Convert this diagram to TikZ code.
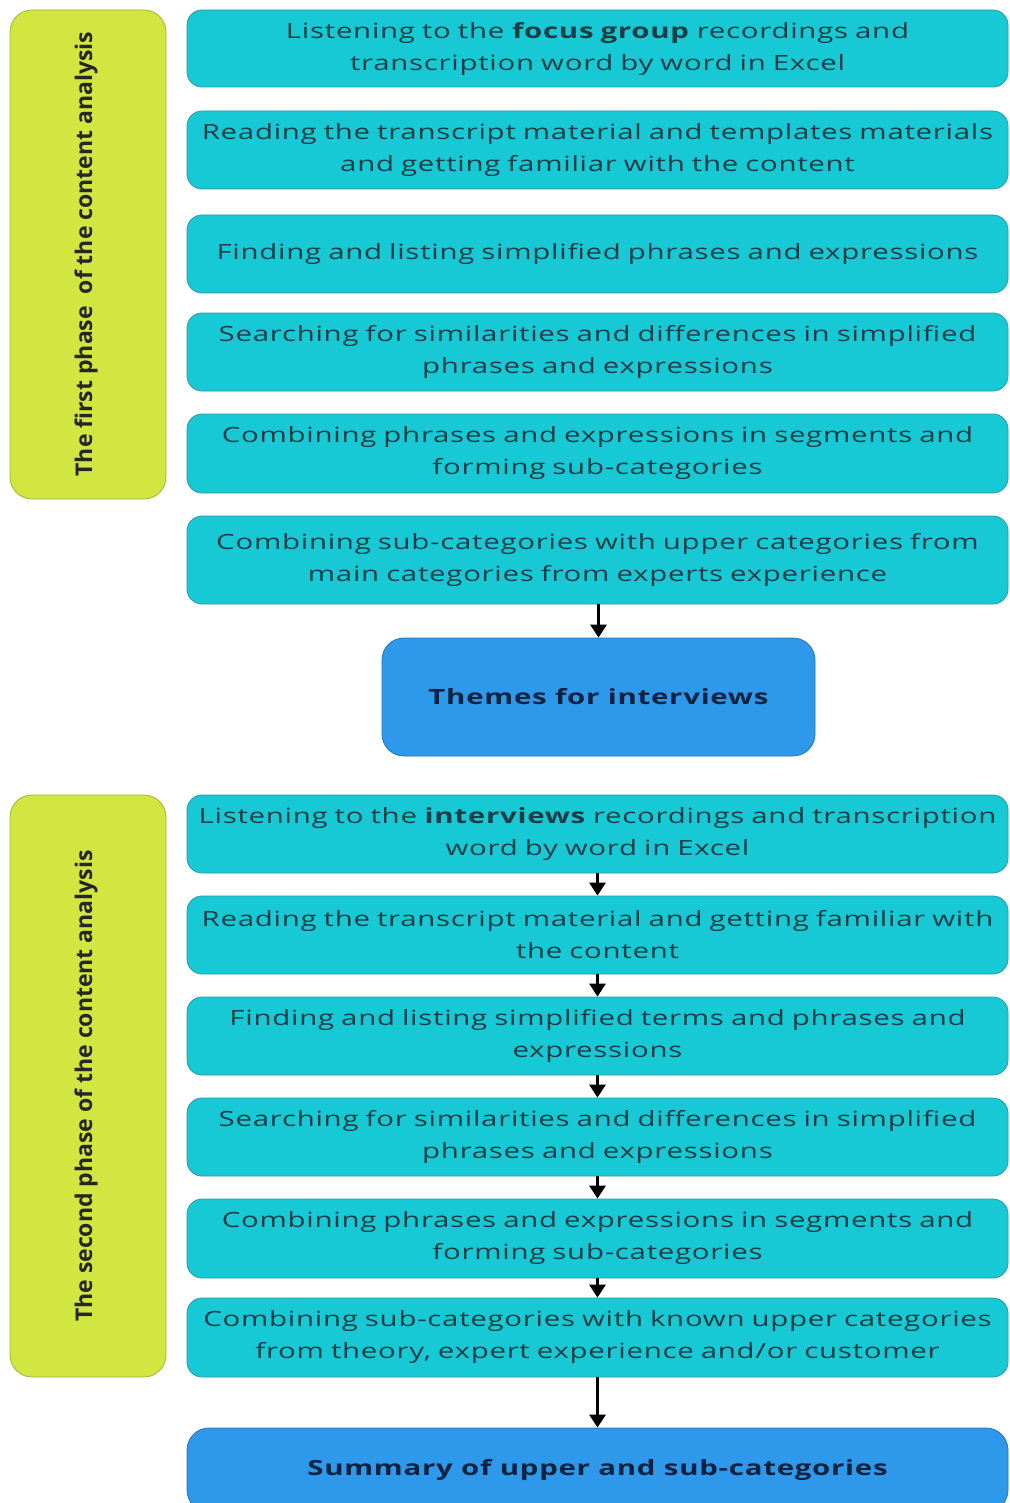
\documentclass[tikz,border=0pt]{standalone}
\usepackage{fontspec}
\setmainfont{Open Sans}[FakeStretch=1.4, LetterSpace=3.5]
\newfontfamily\labelfont{Open Sans}
\usetikzlibrary{arrows.meta}
\definecolor{cyanfill}{HTML}{16C9D4}
\definecolor{cyanline}{HTML}{2A9AA6}
\definecolor{greenfill}{HTML}{D2E642}
\definecolor{greenline}{HTML}{A3B236}
\definecolor{bluefill}{HTML}{2E98EA}
\definecolor{blueline}{HTML}{2375BD}
\definecolor{boxtext}{HTML}{1B3C45}
\definecolor{navytext}{HTML}{0F2240}
\tikzset{
  stepbox/.style={draw=cyanline, line width=0.8pt, fill=cyanfill, rounded corners=15pt,
    minimum width=821pt, text width=815pt, align=center, inner sep=0pt,
    font=\fontsize{21}{32}\selectfont, text=boxtext},
  resultbox/.style={draw=blueline, line width=0.8pt, fill=bluefill, rounded corners=22pt,
    align=center, inner sep=0pt, font=\fontsize{21}{32}\selectfont\bfseries, text=navytext},
  phasebox/.style={draw=greenline, line width=0.8pt, fill=greenfill, rounded corners=22pt,
    minimum width=156pt, inner sep=0pt},
  phaselabel/.style={rotate=90, inner sep=0pt, font=\labelfont\fontsize{23}{26}\selectfont\bfseries, text=black!85},
  flow/.style={-{Triangle[width=16pt,length=13pt]}, line width=3pt, black}
}
\begin{document}
\begin{tikzpicture}[x=1pt, y=-1pt]
\useasboundingbox[fill=white] (0,0) rectangle (1009,1503);

% phase panels on the left
\node[phasebox, minimum height=489pt] (ph1) at (88,254.5) {};
\node[phaselabel] (ph1t) at (86,254) {The first phase\ \ of the content analysis};
\node[phasebox, minimum height=582pt] (ph2) at (88,1086) {};
\node[phaselabel] (ph2t) at (86,1086) {The second phase of the content analysis};

% first phase steps
\node[stepbox, minimum height=77pt] (a1) at (597.5,48.5) {Listening to the \textbf{focus group} recordings and\\ transcription word by word in Excel};
\node[stepbox, minimum height=78pt] (a2) at (597.5,150) {Reading the transcript material and templates materials\\ and getting familiar with the content};
\node[stepbox, minimum height=78pt] (a3) at (597.5,254) {Finding and listing simplified phrases and expressions};
\node[stepbox, minimum height=78pt] (a4) at (597.5,352) {Searching for similarities and differences in simplified\\ phrases and expressions};
\node[stepbox, minimum height=79pt] (a5) at (597.5,453.5) {Combining phrases and expressions in segments and\\ forming sub-categories};
\node[stepbox, minimum height=88pt] (a6) at (597.5,560) {Combining sub-categories with upper categories from\\ main categories from experts experience};

\node[resultbox, minimum width=433pt, minimum height=118pt] (themes) at (598.5,697) {Themes for interviews};

% second phase steps
\node[stepbox, minimum height=78pt] (b1) at (597.5,834) {Listening to the \textbf{interviews} recordings and transcription\\ word by word in Excel};
\node[stepbox, minimum height=78pt] (b2) at (597.5,935) {Reading the transcript material and getting familiar with\\ the content};
\node[stepbox, minimum height=78pt] (b3) at (597.5,1036) {Finding and listing simplified terms and phrases and\\ expressions};
\node[stepbox, minimum height=78pt] (b4) at (597.5,1137) {Searching for similarities and differences in simplified\\ phrases and expressions};
\node[stepbox, minimum height=79pt] (b5) at (597.5,1238.5) {Combining phrases and expressions in segments and\\ forming sub-categories};
\node[stepbox, minimum height=79pt] (b6) at (597.5,1337.5) {Combining sub-categories with known upper categories\\ from theory, expert experience and/or customer};

\node[resultbox, minimum width=821pt, minimum height=84pt] (summary) at (597.5,1470) {Summary of upper and sub-categories};

% connectors
\draw[flow] (a6.south -| themes.north) -- (themes.north);
\draw[flow] (b1) -- (b2);
\draw[flow] (b2) -- (b3);
\draw[flow] (b3) -- (b4);
\draw[flow] (b4) -- (b5);
\draw[flow] (b5) -- (b6);
\draw[flow] (b6) -- (summary);
\end{tikzpicture}
\end{document}
